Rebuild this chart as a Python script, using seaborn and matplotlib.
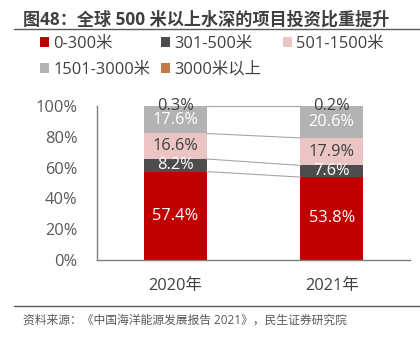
import matplotlib
matplotlib.use("Agg")
import matplotlib.pyplot as plt
from matplotlib.patches import Patch
from matplotlib.lines import Line2D
import numpy as np
import pandas as pd
import seaborn as sns

# Investment share by water depth (%)
years = ["2020年", "2021年"]
depth_bands = ["0-300米", "301-500米", "501-1500米", "1501-3000米", "3000米以上"]
share_2020 = [57.4, 8.2, 16.6, 17.6, 0.3]
share_2021 = [53.8, 7.6, 17.9, 20.6, 0.2]

band_colors = ["#C00000", "#4D4D4D", "#EBC4C4", "#B3B3B3", "#C27A48"]
label_colors = ["white", "white", "#404040", "white", "#404040"]

sns.set_style("white")
plt.rcParams["font.family"] = ["Open Sans", "Noto Sans CJK SC", "DejaVu Sans"]

values = np.array([share_2020, share_2021])          # rows: years, cols: bands
cum = np.cumsum(values, axis=1)

fig = plt.figure(figsize=(4.2, 3.42), dpi=100)
ax = fig.add_axes([0.231, 0.2406, 0.745, 0.449])

bar_w = 0.40
# Stacked bars: draw cumulative totals from the top band down
for i in range(len(depth_bands) - 1, -1, -1):
    df = pd.DataFrame({"year": years, "total": cum[:, i]})
    sns.barplot(data=df, x="year", y="total", color=band_colors[i],
                width=bar_w, saturation=1, ax=ax, clip_on=False,
                linewidth=0)

# Series lines linking segment boundaries between the two bars
for i in range(len(depth_bands) - 1):
    ax.plot([0 + bar_w / 2, 1 - bar_w / 2], [cum[0, i], cum[1, i]],
            color="#A6A6A6", lw=0.8, zorder=1)
ax.plot([0 + bar_w / 2, 1 - bar_w / 2], [100, 100], color="#A6A6A6", lw=0.8, zorder=1)

# Value labels centred in each segment
for j in range(len(years)):
    for i in range(len(depth_bands)):
        y = cum[j, i] - values[j, i] / 2
        ax.text(j, y, f"{values[j, i]:.1f}%", ha="center", va="center",
                fontsize=11.8, color=label_colors[i], zorder=5)

ax.set_xlim(-0.5, 1.5)
ax.set_ylim(0, 100)
ax.set_yticks(np.arange(0, 101, 20))
ax.set_yticklabels([f"{v}%" for v in range(0, 101, 20)])
ax.set_xlabel("")
ax.set_ylabel("")
for s in ["top", "right"]:
    ax.spines[s].set_visible(False)
for s in ["left", "bottom"]:
    ax.spines[s].set_color("#7F7F7F")
    ax.spines[s].set_linewidth(1.0)
ax.tick_params(axis="y", direction="in", length=3, width=1, color="#7F7F7F",
               labelsize=11.8, labelcolor="#595959", pad=14)
ax.tick_params(axis="x", length=0, labelsize=11.8, labelcolor="#404040", pad=13)

# Legend: one column per legend so the columns sit on an even grid
columns = [[0, 3], [1, 4], [2]]
col_x = [40, 161, 283]
for xs, ks in zip(col_x, columns):
    handles = [Patch(facecolor=band_colors[k], edgecolor="none") for k in ks]
    labels = [depth_bands[k] for k in ks]
    fig.legend(handles, labels, loc="upper left", ncol=1,
               bbox_to_anchor=(xs / 420, 1 - 36 / 342), frameon=False,
               fontsize=11.8, handlelength=0.55, handleheight=0.55,
               handletextpad=0.25, labelspacing=0.6,
               labelcolor="#404040", borderaxespad=0, borderpad=0)

# Title and rules
fig.text(23 / 420, 1 - 20 / 342, "图48：全球 500 米以上水深的项目投资比重提升",
         fontsize=12.3, fontweight="bold", color="#404040", va="center", ha="left")
fig.add_artist(Line2D([14 / 420, 1], [1 - 29 / 342, 1 - 29 / 342],
                      color="#595959", lw=1.0))
fig.add_artist(Line2D([14 / 420, 1], [1 - 306 / 342, 1 - 306 / 342],
                      color="#595959", lw=1.0))
fig.text(23 / 420, 1 - 320 / 342, "资料来源：《中国海洋能源发展报告 2021》，民生证券研究院",
         fontsize=8.5, color="#595959", va="center", ha="left")

fig.savefig("out.png", dpi=100)
